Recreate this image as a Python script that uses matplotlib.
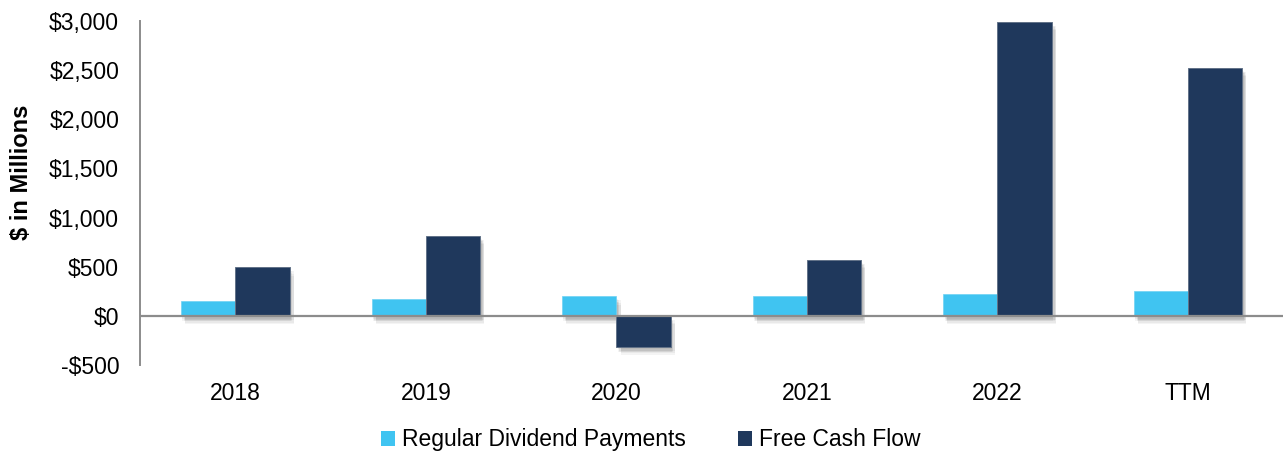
import matplotlib
matplotlib.use("Agg")
import matplotlib.pyplot as plt
import matplotlib.patheffects as pe
from matplotlib.patches import Patch
import numpy as np

categories = ["2018", "2019", "2020", "2021", "2022", "TTM"]
dividends = [153, 176, 200, 203, 227, 254]
free_cash_flow = [495, 814, -312, 570, 2990, 2523]
yticks = [-500, 0, 500, 1000, 1500, 2000, 2500, 3000]

plt.rcParams['font.family'] = ['Liberation Sans', 'DejaVu Sans']

fig = plt.figure(figsize=(12.86, 4.54), dpi=100)
ax = fig.add_axes([0.1089, 0.196, 0.889, 0.758])

x = np.arange(len(categories))
w = 0.285
shadow = [pe.SimplePatchShadow(offset=(dx, dy), alpha=0.045, shadow_rgbFace='black')
          for dx, dy in [(1, -2), (2, -3), (2, -4), (3, -5), (3, -6), (1, -4), (3, -3)]]
shadow.append(pe.Normal())

div_color = '#40C4F1'
fcf_color = '#1F385C'
b1 = ax.bar(x - w / 2, dividends, w, color=div_color, edgecolor='#6fd2f4', linewidth=0.5, zorder=2)
b2 = ax.bar(x + w / 2, free_cash_flow, w, color=fcf_color, edgecolor='#627288', linewidth=0.7, zorder=2)
for r in list(b1) + list(b2):
    r.set_path_effects(shadow)

ax.axhline(0, color='#8c8c8c', linewidth=1.6, zorder=3)
ax.set_xlim(-0.5, 5.5)
ax.set_ylim(-500, 3000)
ax.set_yticks(yticks)
ax.set_yticklabels([f"-${abs(v):,}" if v < 0 else f"${v:,}" for v in yticks])
ax.set_xticks(x)
ax.set_xticklabels(categories)
ax.tick_params(axis='both', length=0, labelsize=16.5, colors='black')
ax.tick_params(axis='y', pad=15)
ax.tick_params(axis='x', pad=12)
for s in ['top', 'right', 'bottom']:
    ax.spines[s].set_visible(False)
ax.spines['left'].set_color('#8c8c8c')
ax.spines['left'].set_linewidth(1.4)

ax.set_ylabel('$ in Millions', fontsize=17, fontweight='bold')
ax.yaxis.set_label_coords(-0.094, 0.56)

handles = [Patch(facecolor=div_color, edgecolor='none', label='Regular Dividend Payments'),
           Patch(facecolor=fcf_color, edgecolor='none', label='Free Cash Flow')]
fig.legend(handles=handles, loc='center', bbox_to_anchor=(0.506, 0.031), ncol=2,
           frameon=False, fontsize=16.5, handlelength=0.6, handleheight=0.6,
           handletextpad=0.3, columnspacing=2.3)

fig.savefig('out.png', dpi=100)
